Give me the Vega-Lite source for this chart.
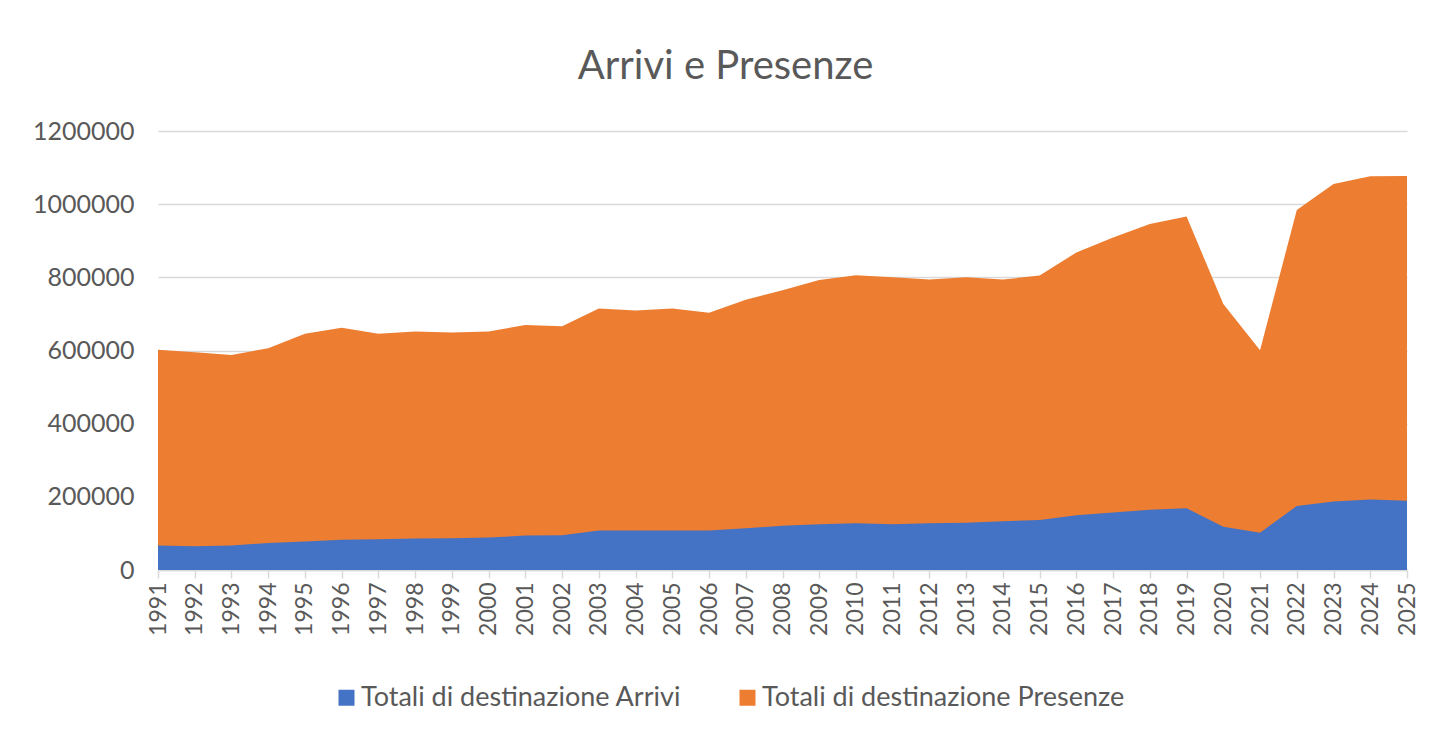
{
  "$schema": "https://vega.github.io/schema/vega-lite/v6.json",
  "autosize": "none",
  "width": 1249,
  "height": 439,
  "padding": {"left": 158, "top": 131, "right": 40, "bottom": 167},
  "background": "#ffffff",
  "config": {"view": {"stroke": null}},
  "title": {
    "text": "Arrivi e Presenze",
    "font": "Lato",
    "fontSize": 40,
    "fontWeight": "normal",
    "color": "#595959",
    "anchor": "middle",
    "dx": -57,
    "offset": 32
  },
  "data": {
    "values": [
      {"anno": "1991", "arrivi": 67000, "presenze": 602000},
      {"anno": "1992", "arrivi": 65000, "presenze": 595000},
      {"anno": "1993", "arrivi": 67000, "presenze": 588000},
      {"anno": "1994", "arrivi": 74000, "presenze": 606000},
      {"anno": "1995", "arrivi": 78000, "presenze": 646000},
      {"anno": "1996", "arrivi": 83000, "presenze": 662000},
      {"anno": "1997", "arrivi": 84000, "presenze": 646000},
      {"anno": "1998", "arrivi": 86000, "presenze": 652000},
      {"anno": "1999", "arrivi": 87000, "presenze": 649000},
      {"anno": "2000", "arrivi": 89000, "presenze": 652000},
      {"anno": "2001", "arrivi": 94000, "presenze": 670000},
      {"anno": "2002", "arrivi": 95000, "presenze": 666000},
      {"anno": "2003", "arrivi": 108000, "presenze": 715000},
      {"anno": "2004", "arrivi": 108000, "presenze": 709000},
      {"anno": "2005", "arrivi": 108000, "presenze": 715000},
      {"anno": "2006", "arrivi": 108000, "presenze": 703000},
      {"anno": "2007", "arrivi": 114000, "presenze": 739000},
      {"anno": "2008", "arrivi": 121000, "presenze": 765000},
      {"anno": "2009", "arrivi": 125000, "presenze": 793000},
      {"anno": "2010", "arrivi": 128000, "presenze": 806000},
      {"anno": "2011", "arrivi": 125000, "presenze": 800000},
      {"anno": "2012", "arrivi": 128000, "presenze": 794000},
      {"anno": "2013", "arrivi": 129000, "presenze": 800000},
      {"anno": "2014", "arrivi": 133000, "presenze": 794000},
      {"anno": "2015", "arrivi": 137000, "presenze": 805000},
      {"anno": "2016", "arrivi": 150000, "presenze": 868000},
      {"anno": "2017", "arrivi": 157000, "presenze": 909000},
      {"anno": "2018", "arrivi": 165000, "presenze": 946000},
      {"anno": "2019", "arrivi": 169000, "presenze": 966000},
      {"anno": "2020", "arrivi": 118000, "presenze": 727000},
      {"anno": "2021", "arrivi": 102000, "presenze": 601000},
      {"anno": "2022", "arrivi": 175000, "presenze": 984000},
      {"anno": "2023", "arrivi": 187000, "presenze": 1055000},
      {"anno": "2024", "arrivi": 193000, "presenze": 1076000},
      {"anno": "2025", "arrivi": 189000, "presenze": 1077000}
    ]
  },
  "encoding": {
    "x": {
      "field": "anno",
      "type": "ordinal",
      "scale": {"type": "point", "padding": 0},
      "axis": {
        "title": null,
        "labelAngle": -90,
        "labelAlign": "right",
        "labelBaseline": "middle",
        "labelFont": "Lato",
        "labelFontSize": 23,
        "labelColor": "#595959",
        "labelPadding": 4,
        "domainColor": "#d9d9d9",
        "domainWidth": 1.5,
        "tickColor": "#d9d9d9",
        "tickSize": 8,
        "tickWidth": 1.5,
        "grid": false
      }
    }
  },
  "layer": [
    {
      "mark": {"type": "area", "opacity": 1},
      "encoding": {
        "y": {
          "field": "presenze",
          "type": "quantitative",
          "stack": null,
          "scale": {"domain": [0, 1200000], "nice": false},
          "axis": {
            "title": null,
            "values": [0, 200000, 400000, 600000, 800000, 1000000, 1200000],
            "format": "d",
            "labelFont": "Lato",
            "labelFontSize": 25,
            "labelColor": "#595959",
            "labelPadding": 24,
            "ticks": false,
            "domain": false,
            "grid": true,
            "gridColor": "#d9d9d9",
            "gridWidth": 1.5
          }
        },
        "color": {
          "datum": "Totali di destinazione Presenze",
          "type": "nominal",
          "scale": {
            "domain": ["Totali di destinazione Arrivi", "Totali di destinazione Presenze"],
            "range": ["#4472c4", "#ed7d31"]
          },
          "legend": {
            "title": null,
            "orient": "none",
            "direction": "horizontal",
            "legendX": 175,
            "legendY": 553,
            "symbolType": "square",
            "symbolSize": 256,
            "symbolStrokeWidth": 0,
            "labelFont": "Lato",
            "labelFontSize": 27,
            "labelColor": "#595959",
            "labelLimit": 0,
            "labelOffset": 1,
            "columnPadding": 52
          }
        }
      }
    },
    {
      "mark": {"type": "area", "opacity": 1},
      "encoding": {
        "y": {"field": "arrivi", "type": "quantitative", "stack": null},
        "color": {"datum": "Totali di destinazione Arrivi", "type": "nominal"}
      }
    }
  ]
}
